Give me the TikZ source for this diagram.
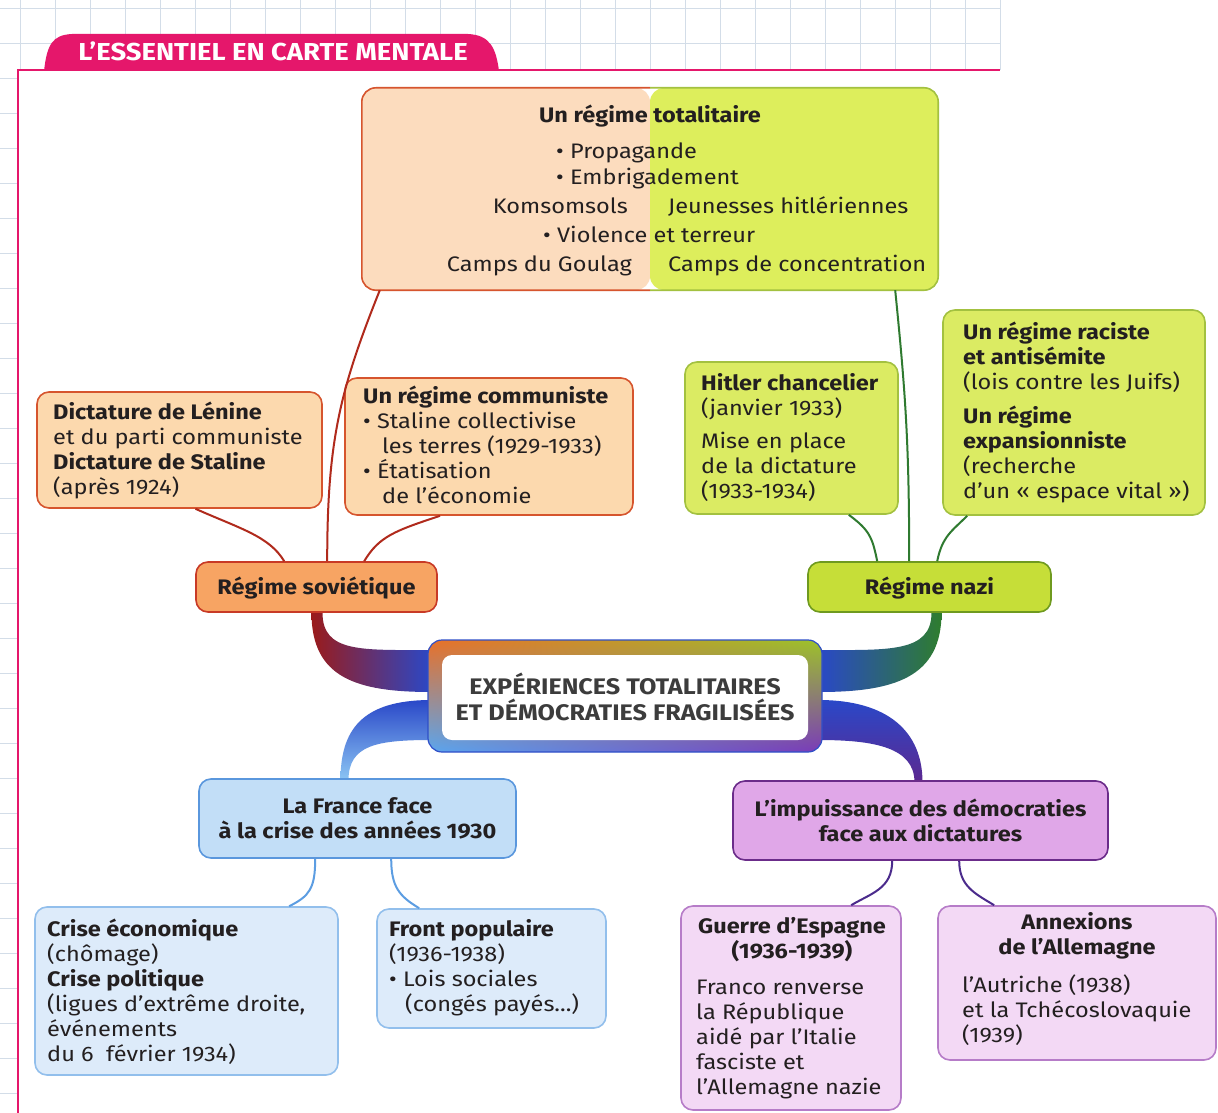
\documentclass[tikz,border=0pt]{standalone}
\usepackage{fontspec}
\setmainfont{Fira Sans}[FakeStretch=1.12]
\usetikzlibrary{calc,backgrounds,shadings}
\definecolor{ink}{HTML}{231F20}
\definecolor{pinkc}{HTML}{E5176B}
\definecolor{gridc}{HTML}{D3DDE8}
\definecolor{peachA}{HTML}{FCDCBE}
\definecolor{peachF}{HTML}{FCD9AE}
\definecolor{peachB}{HTML}{D6552E}
\definecolor{sovF}{HTML}{F7A463}
\definecolor{sovB}{HTML}{C83A26}
\definecolor{redL}{HTML}{B02A1C}
\definecolor{limeA}{HTML}{DDEE5C}
\definecolor{limeF}{HTML}{DBEB63}
\definecolor{limeB}{HTML}{A3C140}
\definecolor{nazF}{HTML}{C6DE38}
\definecolor{nazB}{HTML}{6F9A1F}
\definecolor{grnL}{HTML}{2F7A30}
\definecolor{frF}{HTML}{C2DEF7}
\definecolor{frB}{HTML}{5A97DD}
\definecolor{lbF}{HTML}{DDEBFA}
\definecolor{lbB}{HTML}{92BFEC}
\definecolor{bluL}{HTML}{5C9DE2}
\definecolor{impF}{HTML}{E0A7E8}
\definecolor{impB}{HTML}{6B2C8A}
\definecolor{ppF}{HTML}{F3D9F5}
\definecolor{ppB}{HTML}{B67CC8}
\definecolor{purL}{HTML}{4B2B8C}
\definecolor{ctrTxt}{HTML}{3C3C3C}
\definecolor{cUL}{HTML}{E8702A}
\definecolor{cUR}{HTML}{9CC22A}
\definecolor{cLL}{HTML}{5AA6EE}
\definecolor{cLR}{HTML}{7A3AB8}
\definecolor{cOut}{HTML}{2F4FC8}
\definecolor{ribR}{HTML}{9A1B1B}
\definecolor{ribB}{HTML}{2A48C8}
\definecolor{ribG}{HTML}{2E7D2E}
\definecolor{ribLB}{HTML}{8CC6F4}
\definecolor{ribP}{HTML}{5C2890}
\newcommand\fs{\rule{0pt}{17pt}}
\tikzset{
  box/.style={rounded corners=12pt, line width=1.6pt, inner sep=0pt},
  para/.style={inner sep=0pt, align=left, anchor=north west, text=ink, font=\fontsize{21}{25}\selectfont},
  hpara/.style={para, align=center, anchor=north},
  lbl/.style={inner sep=0pt, text height=14pt, text depth=0pt, text=ink, font=\fontsize{21}{25}\selectfont},
  bfont/.style={font=\bfseries\fontsize{21}{25}\selectfont},
  conn/.style={line width=2pt},
}
\begin{document}
\begin{tikzpicture}[x=1pt,y=-1pt]
\useasboundingbox (0,0) rectangle (1218,1113);
\begin{scope}[on background layer]
\fill[white] (0,0) rectangle (1218,1113);
\end{scope}
% grid
\foreach \gx in {20,55,...,1000} \draw[gridc, line width=0.8pt] (\gx,0) -- (\gx,70);
\foreach \gy in {8,43} \draw[gridc, line width=0.8pt] (0,\gy) -- (1000,\gy);
\foreach \gy in {78,113,...,1113} \draw[gridc, line width=0.6pt] (0,\gy) -- (18,\gy);
% frame and tab
\draw[pinkc, line width=2pt] (18,1113) -- (18,70) -- (1000,70);
\fill[pinkc] (44,71) .. controls (47,45) and (52,35) .. (72,34) -- (468,34) .. controls (490,35) and (496,48) .. (499,71) -- cycle;
\node[inner sep=0pt, text height=17pt, text depth=0pt, text=white, font=\bfseries\fontsize{24.5}{25}\selectfont] (tab) at (273,52) {L’ESSENTIEL EN CARTE MENTALE};

% top box
\node[inner sep=0pt, rounded corners=14pt, minimum width=576pt, minimum height=202pt,
  path picture={\fill[peachA] (path picture bounding box.south west) rectangle (path picture bounding box.north);
                \fill[limeA] (path picture bounding box.north) rectangle (path picture bounding box.south east);}] (tot) at (650,189) {};
\begin{scope}
\clip ([shift={(-5pt,5pt)}]tot.north west) rectangle ([yshift=-5pt]tot.south);
\draw[peachB, line width=1.6pt, rounded corners=14pt] (tot.north west) rectangle (tot.south east);
\end{scope}
\begin{scope}
\clip ([yshift=5pt]tot.north) rectangle ([shift={(5pt,-5pt)}]tot.south east);
\draw[limeB, line width=1.6pt, rounded corners=14pt] (tot.north west) rectangle (tot.south east);
\end{scope}
\node[lbl, bfont] (tTitle) at (650,116) {Un régime totalitaire};
\node[lbl, anchor=west] (tProp) at (556,152) {• Propagande};
\node[lbl, anchor=west] (tEmb) at (556,177) {• Embrigadement};
\node[lbl, anchor=east] (tKom) at (628,206) {Komsomsols};
\node[lbl, anchor=west] (tJeu) at (668,206) {Jeunesses hitlériennes};
\node[lbl, anchor=west] (tVio) at (543,235) {• Violence et terreur};
\node[lbl, anchor=east] (tGou) at (632,264) {Camps du Goulag};
\node[lbl, anchor=west] (tCon) at (668,264) {Camps de concentration};

% soviet side
\node[box, draw=peachB, fill=peachF, minimum width=285pt, minimum height=116pt] (len) at (179.5,450) {};
\node[para] (lenT) at (53,402) {\fs\textbf{Dictature de Lénine}\\et du parti communiste\\\textbf{Dictature de Staline}\\(après 1924)};
\node[box, draw=peachB, fill=peachF, minimum width=288pt, minimum height=137pt] (com) at (489,446.5) {};
\node[para] (comT) at (363,386) {\fs\textbf{Un régime communiste}\\• Staline collectivise\\\hspace*{19pt}les terres (1929-1933)\\• Étatisation\\\hspace*{19pt}de l’économie};
\node[box, draw=sovB, fill=sovF, minimum width=241pt, minimum height=50pt, lbl, bfont] (sov) at (316.5,587) {Régime soviétique};

% nazi side
\node[box, draw=limeB, fill=limeF, minimum width=213pt, minimum height=152pt] (hit) at (791.5,438) {};
\node[para] (hitT) at (701,373) {\fs\textbf{Hitler chancelier}\\(janvier 1933)\\[8pt]Mise en place\\de la dictature\\(1933-1934)};
\node[box, draw=limeB, fill=limeF, minimum width=262pt, minimum height=205pt] (rac) at (1074,412.5) {};
\node[para] (racT) at (963,322) {\fs\textbf{Un régime raciste}\\\textbf{et antisémite}\\(lois contre les Juifs)\\[9pt]\textbf{Un régime}\\\textbf{expansionniste}\\(recherche\\d’un «~espace vital~»)};
\node[box, draw=nazB, fill=nazF, minimum width=243pt, minimum height=50pt, lbl, bfont] (naz) at (929.5,587) {Régime nazi};

% centre
\node[shade, upper left=cUL, upper right=cUR, lower left=cLL, lower right=cLR, draw=cOut, line width=1.2pt, rounded corners=14pt, minimum width=394pt, minimum height=112pt, inner sep=0pt] (ctr) at (625,696) {};
\node[fill=white, rounded corners=10pt, minimum width=366pt, minimum height=85pt, inner sep=0pt] (ctrIn) at (625,697.5) {};
\node[align=center, inner sep=0pt, text=ctrTxt, font=\bfseries\fontsize{22.5}{26}\selectfont] (ctrT) at (625,697) {EXPÉRIENCES TOTALITAIRES\\ET DÉMOCRATIES FRAGILISÉES};

% France
\node[box, draw=frB, fill=frF, minimum width=317pt, minimum height=79pt, align=center, text=ink, bfont] (fr) at (357.5,818.5) {La France face\\à la crise des années 1930};
\node[box, draw=lbB, fill=lbF, minimum width=303pt, minimum height=168pt] (cri) at (186.5,991) {};
\node[para] (criT) at (47,919) {\fs\textbf{Crise économique}\\(chômage)\\\textbf{Crise politique}\\(ligues d’extrême droite,\\événements\\du 6\ \ février 1934)};
\node[box, draw=lbB, fill=lbF, minimum width=229pt, minimum height=119pt] (fro) at (491.5,968.5) {};
\node[para] (froT) at (389,919) {\fs\textbf{Front populaire}\\(1936-1938)\\• Lois sociales\\\hspace*{16pt}(congés payés...)};

% democracies
\node[box, draw=impB, fill=impF, minimum width=375pt, minimum height=79pt, align=center, text=ink, bfont] (imp) at (920.5,820.5) {L’impuissance des démocraties\\face aux dictatures};
\node[box, draw=ppB, fill=ppF, minimum width=220pt, minimum height=204pt] (gue) at (791,1008) {};
\node[hpara] (gueH) at (792,916) {\fs\textbf{Guerre d’Espagne}\\\textbf{(1936-1939)}};
\node[para] (gueT) at (696,977) {\fs Franco renverse\\la République\\aidé par l’Italie\\fasciste et\\l’Allemagne nazie};
\node[box, draw=ppB, fill=ppF, minimum width=278pt, minimum height=154pt] (ann) at (1077,983) {};
\node[hpara] (annH) at (1077,912) {\fs\textbf{Annexions}\\\textbf{de l’Allemagne}};
\node[para] (annT) at (962,975) {\fs l’Autriche (1938)\\et la Tchécoslovaquie\\(1939)};

% thin connectors
\draw[conn, redL] ([xshift=18pt]tot.south west) .. controls +(-40,100) and +(0,-120) .. ([xshift=132pt]sov.north west);
\draw[conn, redL] ([xshift=16pt]len.south) .. controls +(45,20) and +(-15,-25) .. ([xshift=89pt]sov.north west);
\draw[conn, redL] ([xshift=-49pt]com.south) .. controls +(-45,15) and +(15,-25) .. ([xshift=169pt]sov.north west);
\draw[conn, grnL] ([xshift=-43pt]tot.south east) .. controls +(10,100) and +(0,-120) .. ([xshift=102pt]naz.north west);
\draw[conn, grnL] ([xshift=-50pt]hit.south east) .. controls +(20,15) and +(-5,-25) .. ([xshift=70pt]naz.north west);
\draw[conn, grnL] ([xshift=25pt]rac.south west) .. controls +(-15,15) and +(5,-25) .. ([xshift=130pt]naz.north west);
\draw[conn, bluL] ([xshift=117pt]fr.south west) .. controls +(0,30) and +(20,-10) .. ([xshift=255pt]cri.north west);
\draw[conn, bluL] ([xshift=193pt]fr.south west) .. controls +(0,28) and +(-20,-12) .. ([xshift=43pt]fro.north west);
\draw[conn, purL] ([xshift=160pt]imp.south west) .. controls +(0,28) and +(20,-12) .. ([xshift=171pt]gue.north west);
\draw[conn, purL] ([xshift=227pt]imp.south west) .. controls +(0,25) and +(-20,-12) .. ([xshift=57pt]ann.north west);

% tapered ribbons
\begin{scope}[on background layer]
\shade[left color=ribR, right color=ribB] ([xshift=-5pt]sov.south) .. controls +(0,65) and +(-75,0) .. ([shift={(4pt,4pt)}]ctr.west) -- ([shift={(4pt,46pt)}]ctr.west) .. controls +(-70,0) and +(0,40) .. ([xshift=6pt]sov.south) -- cycle;
\shade[left color=ribB, right color=ribG] ([xshift=12pt]naz.south) .. controls +(0,65) and +(75,0) .. ([shift={(-4pt,4pt)}]ctr.east) -- ([shift={(-4pt,46pt)}]ctr.east) .. controls +(70,0) and +(0,40) .. ([xshift=2pt]naz.south) -- cycle;
\shade[top color=ribB, bottom color=ribLB] ([shift={(4pt,-4pt)}]ctr.west) .. controls +(-70,0) and +(0,-50) .. ([shift={(-17pt,-2pt)}]fr.north) -- ([shift={(-9pt,-2pt)}]fr.north) .. controls +(0,-35) and +(-55,0) .. ([shift={(4pt,-44pt)}]ctr.west) -- cycle;
\shade[top color=ribB, bottom color=ribP] ([shift={(-4pt,-4pt)}]ctr.east) .. controls +(70,0) and +(0,-50) .. ([shift={(2pt,-2pt)}]imp.north) -- ([shift={(-6pt,-2pt)}]imp.north) .. controls +(0,-35) and +(55,0) .. ([shift={(-4pt,-44pt)}]ctr.east) -- cycle;
\end{scope}
\end{tikzpicture}
\end{document}
